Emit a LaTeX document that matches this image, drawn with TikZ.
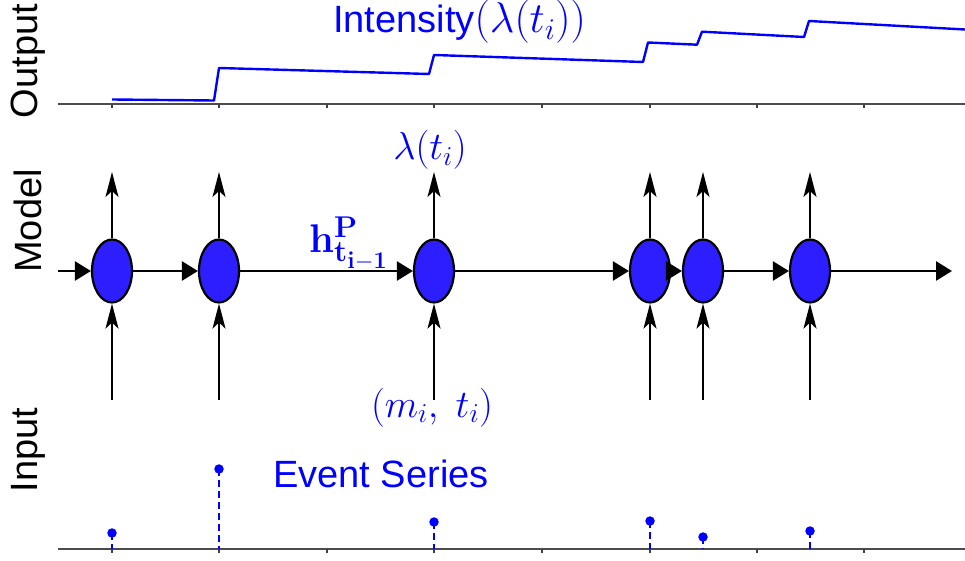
\RequirePackage{fix-cm}
\documentclass[tikz,border=0pt]{standalone}
\usepackage[no-math]{fontspec}
\setmainfont{Liberation Sans}
\usetikzlibrary{shapes.geometric,arrows.meta}
\DeclareMathSizes{40}{40}{30}{24}
\definecolor{cellblue}{RGB}{45,30,255}
\tikzset{
  cell/.style={ellipse,draw=black,line width=2.2pt,fill=cellblue,minimum width=40pt,minimum height=63pt,inner sep=0pt},
  flow/.style={line width=2.6pt,-{Triangle[length=16pt,width=19pt]}},
  vert/.style={line width=1.9pt,-{Stealth[length=25pt,width=13pt,inset=6pt]}},
  axisline/.style={line width=1.8pt,draw=black!70},
  tick/.style={line width=1.4pt,draw=black!75},
  curve/.style={line width=2.4pt,draw=blue,line join=round},
  stem/.style={line width=2.1pt,draw=blue,dash pattern=on 7pt off 4pt},
  dot/.style={circle,fill=blue,inner sep=0pt,minimum size=9.5pt},
  rowlabel/.style={rotate=90,font=\fontsize{38}{40}\selectfont},
  bluetext/.style={text=blue,font=\fontsize{38}{40}\selectfont,inner sep=0pt},
  mathlab/.style={text=blue,font=\fontsize{39}{42}\selectfont,inner sep=0pt}
}
\begin{document}
\begin{tikzpicture}[x=1pt,y=-1pt]
\useasboundingbox (0,0) rectangle (965,561);
% row labels
\node[rowlabel] (lout) at (28,61) {Output};
\node[rowlabel] (lmod) at (28,221) {Model};
\node[rowlabel] (linp) at (28,450) {Input};
% output axis
\draw[axisline] (58,104) -- (965,104);
\foreach \x in {112,219,327,434,542,650,757,864}{\draw[tick] (\x,104) -- (\x,108);}
\draw[curve] (112,99.5) -- (214,100.5) -- (219,68) -- (429,74) -- (434,55) -- (643,62) -- (648,42.5) -- (697,44.7) -- (702,31.7) -- (804,37) -- (809,21) -- (965,29.5);
\node[bluetext,anchor=base west] (intens) at (333,33) {Intensity{\fontsize{43}{46}\selectfont$(\lambda(t_i))$}};
% model
\node[cell] (e1) at (112,271) {};
\node[cell] (e2) at (219,271) {};
\node[cell] (e3) at (434,271) {};
\node[cell] (e4) at (650,271) {};
\node[cell] (e5) at (703,271) {};
\node[cell] (e6) at (810,271) {};
\coordinate (hin) at (58,271);
\coordinate (hout) at (952,271);
\draw[flow] (hin) -- (e1.west);
\draw[flow] (e1.east) -- (e2.west);
\draw[flow] (e2.east) -- (e3.west);
\draw[flow] (e3.east) -- (e4.west);
\draw[flow] (e4.east) -- (e5.west);
\draw[flow] (e5.east) -- (e6.west);
\draw[flow] (e6.east) -- (hout);
\foreach \n/\x in {1/112,2/219,3/434,4/650,5/703,6/810}{
  \coordinate (up\n) at (\x,172);
  \coordinate (dn\n) at (\x,400);
  \draw[vert] (e\n.north) -- (up\n);
  \draw[vert] (dn\n) -- (e\n.south);
}
\node[mathlab,anchor=base] (lam) at (430,160) {$\lambda(t_i)$};
\node[mathlab,anchor=base] (mt) at (432,417) {$(m_i,\; t_i)$};
\node[text=blue,font=\fontsize{40}{44}\selectfont,inner sep=0pt,anchor=base west] (hp) at (309,252) {$\mathbf{h}^{\mathbf{P}}_{\mathbf{t_{i-1}}}$};
% input axis
\draw[axisline] (58,549) -- (965,549);
\foreach \x in {112,219,327,434,542,650,757,864}{\draw[tick] (\x,549) -- (\x,553);}
\foreach \n/\x/\y in {1/112/533,2/219/469,3/434/522,4/650/521,5/703/537,6/810/531}{
  \node[dot] (d\n) at (\x,\y) {};
  \coordinate (b\n) at (\x,549);
  \draw[stem] (d\n.center) -- (b\n);
}
\node[bluetext,anchor=base west] (ev) at (273,487) {Event Series};
\end{tikzpicture}
\end{document}
